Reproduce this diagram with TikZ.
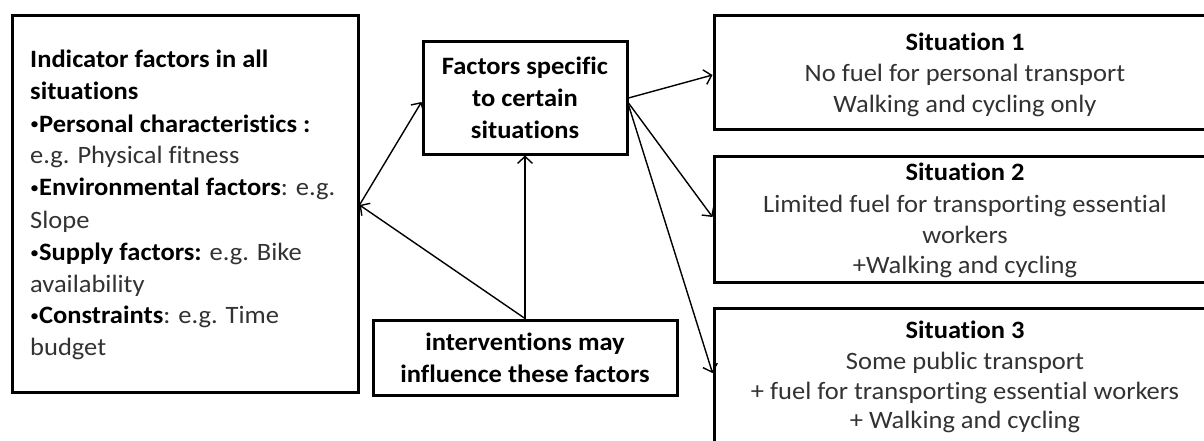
\documentclass[tikz,border=0pt]{standalone}
\usepackage{fontspec}
\setmainfont{Carlito}[FakeStretch=1.06, Ligatures={NoCommon}]
\usetikzlibrary{arrows.meta}
\definecolor{txtgray}{RGB}{50,50,50}
\newcommand{\bul}{\raisebox{2pt}{\fontsize{17}{17}\selectfont•}}
\tikzset{
  box/.style={draw=black, line width=3pt, inner sep=0pt, minimum width=#1},
  ln/.style={inner sep=0pt, font=\fontsize{25}{30}\selectfont, text=txtgray},
  bl/.style={ln, text=black, font=\fontsize{25}{30}\selectfont\bfseries},
  conn/.style={line width=1.4pt, -{Straight Barb[length=7pt,width=15pt,line width=1.4pt]}}
}
\begin{document}
\begin{tikzpicture}[x=1pt,y=-1pt]
\useasboundingbox (0,0) rectangle (1204,441);
\clip (0,0) rectangle (1204,441);
% boxes
\node[box=346pt, minimum height=376pt] (left) at (185,204) {};
\node[box=204pt, minimum height=112pt] (fac) at (525,98) {};
\node[box=304pt, minimum height=75pt] (int) at (525,357.5) {};
\node[box=502pt, minimum height=114pt] (s1) at (965,73) {};
\node[box=502pt, minimum height=126pt] (s2) at (965,219) {};
\node[box=502pt, minimum height=200pt] (s3) at (965,408) {};
% left box text
\node[bl, anchor=base west] (l1) at (30,68) {Indicator factors in all};
\node[bl, anchor=base west] (l2) at (30,100) {situations};
\node[ln, anchor=base west, text=black] (l3) at (30,132) {\bul\textbf{Personal characteristics :}};
\node[ln, anchor=base west] (l4) at (30,163) {e.g. Physical fitness};
\node[ln, anchor=base west] (l5) at (30,195) {\textcolor{black}{\bul\textbf{Environmental factors}}: e.g.};
\node[ln, anchor=base west] (l6) at (30,228) {Slope};
\node[ln, anchor=base west] (l7) at (30,260) {\textcolor{black}{\bul\textbf{Supply factors:}} e.g. Bike};
\node[ln, anchor=base west] (l8) at (30,292) {availability};
\node[ln, anchor=base west] (l9) at (30,323) {\textcolor{black}{\bul\textbf{Constraints}}: e.g. Time};
\node[ln, anchor=base west] (l10) at (30,355) {budget};
% factors box text
\node[bl, anchor=base] (f1) at (525,75) {Factors specific};
\node[bl, anchor=base] (f2) at (525,107) {to certain};
\node[bl, anchor=base] (f3) at (525,139) {situations};
% interventions text
\node[bl, anchor=base] (i1) at (525,350) {interventions may};
\node[bl, anchor=base] (i2) at (525,382) {influence these factors};
% situation 1
\node[bl, anchor=base] (a1) at (965,51) {Situation 1};
\node[ln, anchor=base] (a2) at (965,82) {No fuel for personal transport};
\node[ln, anchor=base] (a3) at (965,113) {Walking and cycling only};
% situation 2
\node[bl, anchor=base] (b1) at (965,180) {Situation 2};
\node[ln, anchor=base] (b2) at (965,212) {Limited fuel for transporting essential};
\node[ln, anchor=base] (b3) at (965,243) {workers};
\node[ln, anchor=base] (b4) at (965,273) {+Walking and cycling};
% situation 3
\node[bl, anchor=base] (c1) at (965,338) {Situation 3};
\node[ln, anchor=base] (c2) at (965,369) {Some public transport};
\node[ln, anchor=base] (c3) at (965,399) {+ fuel for transporting essential workers};
\node[ln, anchor=base] (c4) at (965,428) {+ Walking and cycling};
% connectors
\coordinate (lp) at ([yshift=-1pt]left.east);
\draw[conn] (lp) -- ([yshift=-4pt]fac.west);
\draw[conn] (int.north) -- (fac.south);
\draw[conn] (int.north) -- (lp);
\draw[conn] (fac.east) -- ([yshift=-2pt]s1.west);
\draw[conn] ([yshift=-5pt]fac.east) -- ([yshift=2pt]s2.west);
\draw[conn] ([yshift=-7pt]fac.east) -- ([yshift=35pt]s3.west);
\end{tikzpicture}
\end{document}
